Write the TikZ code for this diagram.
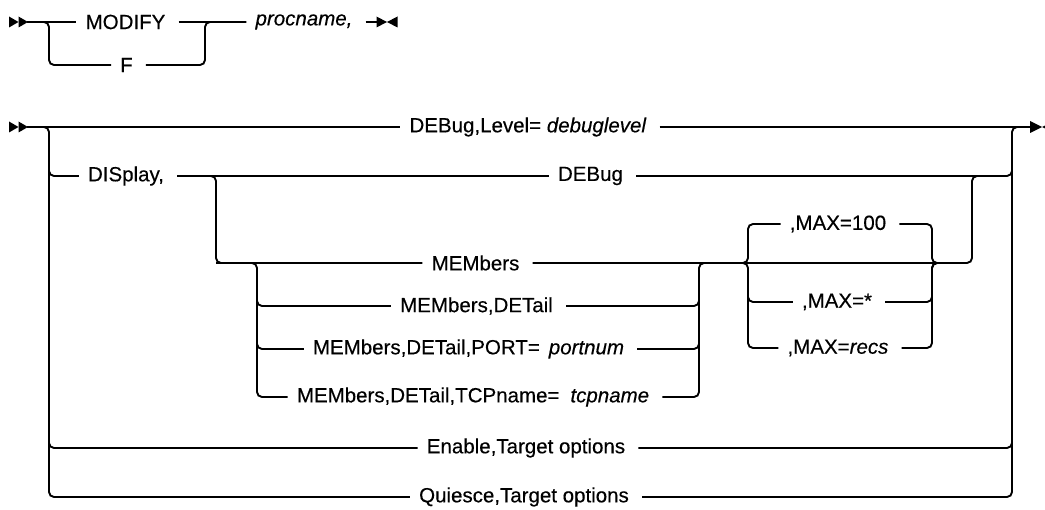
\documentclass[tikz,border=0pt]{standalone}
\usepackage{fontspec}
\setmainfont{Liberation Sans}[FakeBold=0.35]
\begin{document}
\begin{tikzpicture}[x=1pt,y=-1pt,
  rail/.style={line width=1.9pt, rounded corners=5pt},
  lbl/.style={inner xsep=9pt, inner ysep=0pt, font=\fontsize{20.5}{24}\selectfont, execute at end node={\hspace{4pt}}},
  mk/.style={fill=black, draw=none}]
\useasboundingbox (0,0) rectangle (1045,510);

% ---------- diagram 1 ----------
\fill[mk] (9,16.5) -- (18.5,22) -- (9,27.5) -- cycle;
\fill[mk] (18.5,16.5) -- (28,22) -- (18.5,27.5) -- cycle;
\coordinate (s1) at (27,22);
\coordinate (lb1) at (49,65);
\coordinate (rb1) at (205,22);
\coordinate (e1) at (380,22);

\node[lbl] (modify) at (127.5,22) {MODIFY};
\node[lbl] (f) at (128.5,65) {F};
\node[lbl] (proc) at (306,22) {\textit{procname,}\hspace{10pt}};

\draw[rail] (s1) -- (modify.west);
\draw[rail] (modify.east) -- (proc.west);
\draw[rail] (s1) -| (lb1) -- (f.west);
\draw[rail] (f.east) -| (rb1) -- (proc.west);
\draw[rail] (proc.east) -- (e1);
\fill[mk] (376.5,16.5) -- (387,22) -- (376.5,27.5) -- cycle;
\fill[mk] (397.5,16.5) -- (387,22) -- (397.5,27.5) -- cycle;

% ---------- diagram 2 ----------
\fill[mk] (9,121.5) -- (18.5,127) -- (9,132.5) -- cycle;
\fill[mk] (18.5,121.5) -- (28,127) -- (18.5,132.5) -- cycle;
\coordinate (s2) at (27,127);
\coordinate (e2) at (1032,127);

\node[lbl] (dbl) at (530,127) {DEBug,Level= \textit{debuglevel}};
\node[lbl] (display) at (128,176) {DISplay,};
\node[lbl] (debug) at (592.5,176) {DEBug};
\node[lbl] (members) at (477.5,263) {MEMbers};
\node[lbl] (detail) at (478.5,306) {MEMbers,DETail};
\node[lbl] (port) at (470.5,349) {MEMbers,DETail,PORT=\hspace{9pt}\textit{portnum}};
\node[lbl] (tcp) at (475,397) {MEMbers,DETail,TCPname=\hspace{11pt}\textit{tcpname}};
\node[lbl] (max100) at (840,224) {,MAX=100};
\node[lbl] (maxstar) at (839,302) {,MAX=*};
\node[lbl] (maxrecs) at (840,348) {,MAX=\textit{recs}};
\node[lbl] (enable) at (528,448) {Enable,Target options};
\node[lbl] (quiesce) at (526,497) {Quiesce,Target options};

% junction coordinates
\coordinate (Lq) at (49,497);
\coordinate (Ld) at (49,150);
\coordinate (Le) at (49,420);
\coordinate (Rtop) at (1012,127);
\coordinate (Re) at (1012,420);
\coordinate (Rd) at (1012,150);
\coordinate (D1) at (216,263);
\coordinate (M1) at (257,397);
\coordinate (M2) at (257,285);
\coordinate (M3) at (257,330);
\coordinate (N1) at (699,263);
\coordinate (N1b) at (712,263);
\coordinate (N2) at (699,285);
\coordinate (N3) at (699,330);
\coordinate (X0) at (730,263);
\coordinate (X1) at (748,224);
\coordinate (X2) at (748,348);
\coordinate (X3) at (748,280);
\coordinate (Y1) at (932,263);
\coordinate (Y0) at (948,263);
\coordinate (K1) at (972,176);
\coordinate (K2) at (990,176);

% main line
\draw[rail] (s2) -- (dbl.west);
\draw[rail] (dbl.east) -- (e2);
\fill[mk] (1030,121) -- (1042,127) -- (1030,133) -- cycle;
\fill[mk] (1054,121) -- (1042,127) -- (1054,133) -- cycle;

% outer left bracket
\draw[rail] (s2) -| (Lq) -- (quiesce.west);
\draw[rail] (Ld) |- (display.west);
\draw[rail] (Le) |- (enable.west);
% outer right bracket
\draw[rail] (quiesce.east) -| (Rtop) -- (e2);
\draw[rail] (enable.east) -| (Re);
\draw[rail] (debug.east) -| (Rd);

% DISplay group
\draw[rail] (display.east) -- (debug.west);
\draw[rail] (display.east) -| (D1) -- (members.west);
\draw[rail] (D1) -| (M1) -- (tcp.west);
\draw[rail] (M2) |- (detail.west);
\draw[rail] (M3) |- (port.west);
\draw[rail] (tcp.east) -| (N1) -- (N1b);
\draw[rail] (detail.east) -| (N2);
\draw[rail] (port.east) -| (N3);
\draw[rail] (members.east) -| (K1) -- (K2);

% MAX group
\draw[rail] (X0) -| (X1) -- (max100.west);
\draw[rail] (X0) -| (X2) -- (maxrecs.west);
\draw[rail] (X3) |- (maxstar.west);
\draw[rail] (max100.east) -| (Y1) -- (Y0);
\draw[rail] (maxstar.east) -| (Y1) -- (Y0);
\draw[rail] (maxrecs.east) -| (Y1) -- (Y0);
\end{tikzpicture}
\end{document}
